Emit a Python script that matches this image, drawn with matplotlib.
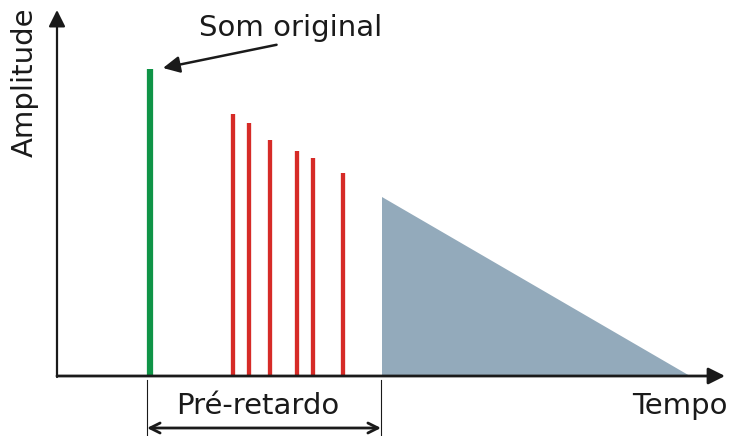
import matplotlib.pyplot as plt

# time (arbitrary units) and amplitude of each event
direct_t = 9.3
direct_amp = 30.7
echo_t = [17.6, 19.2, 21.3, 24.0, 25.6, 28.6]
echo_amp = [26.2, 25.3, 23.6, 22.5, 21.8, 20.3]
tail_start, tail_end = 32.5, 63.3
tail_amp = 17.9
predelay = [9.0, 32.4]

fig = plt.figure(figsize=(7.31, 4.36), dpi=100)
ax = fig.add_axes([0, 0, 1, 1])
ax.set_xlim(-5.7, 67.4)
ax.set_ylim(-6.0, 37.6)
ax.axis('off')

# reverb tail
ax.fill([tail_start, tail_end, tail_start], [0, 0, tail_amp],
        color='#93aabb', lw=0, zorder=1)

# direct sound and early reflections
ax.vlines(direct_t, 0, direct_amp, color='#0f9447', lw=4.5, zorder=2)
ax.vlines(echo_t, 0, echo_amp, color='#d62b27', lw=3.1, zorder=2)

# axes with arrows
ax.annotate('', xy=(66.8, 0), xytext=(0, 0),
            arrowprops=dict(arrowstyle='-|>', color='#1a1a1a', lw=2,
                            mutation_scale=25, shrinkA=0, shrinkB=0), zorder=3)
ax.annotate('', xy=(0, 36.6), xytext=(0, -0.1),
            arrowprops=dict(arrowstyle='-|>', color='#1a1a1a', lw=1.6,
                            mutation_scale=25, shrinkA=0, shrinkB=0), zorder=3)

ax.text(67.4 - 9.9, -3.8, 'Tempo', fontsize=21, color='#1a1a1a',
        ha='left', va='baseline')
ax.text(-3.2, 29.4, 'Amplitude', fontsize=21, color='#1a1a1a',
        rotation=90, ha='center', va='center')

# label for the direct sound
ax.annotate('Som original', xy=(direct_t + 1.3, direct_amp + 0.1),
            xytext=(14.2, 34.0), fontsize=21, color='#1a1a1a',
            ha='left', va='baseline',
            arrowprops=dict(arrowstyle='-|>', color='#1a1a1a', lw=1.8,
                            mutation_scale=25, shrinkA=0, shrinkB=0,
                            relpos=(0.46, -0.05)))

# pre-delay bracket
for t in predelay:
    ax.plot([t, t], [-0.4, -6.0], color='#1a1a1a', lw=0.8)
ax.annotate('', xy=(predelay[1], -5.2), xytext=(predelay[0], -5.2),
            arrowprops=dict(arrowstyle='<->', color='#1a1a1a', lw=2,
                            mutation_scale=18, shrinkA=0, shrinkB=0))
ax.text(sum(predelay) / 2 - 0.6, -3.8, 'Pré-retardo', fontsize=21,
        color='#1a1a1a', ha='center', va='baseline')

fig.savefig('out.png', dpi=100)
